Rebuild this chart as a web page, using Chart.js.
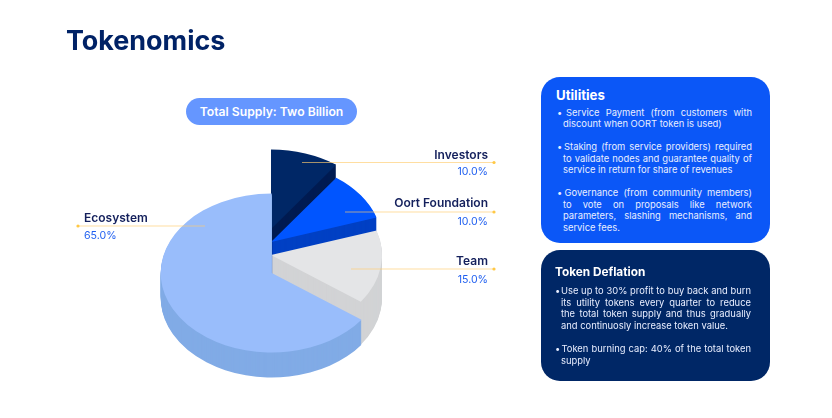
<!DOCTYPE html>
<html>
<head>
<meta charset="utf-8">
<title>Tokenomics</title>
<script src="https://cdn.jsdelivr.net/npm/chart.js@4/dist/chart.umd.min.js"></script>
<style>
  html, body { margin: 0; padding: 0; background: #fff; }
  body { position: relative; width: 832px; height: 418px; overflow: hidden; font-family: Inter, sans-serif; }
  #grafico { position: absolute; left: 0; top: 0; }
  h1 { position: absolute; left: 66px; top: 22px; margin: 0; font-size: 26.9px; line-height: 36px; font-weight: 700; color: #002266; }
  .pill { position: absolute; left: 186px; top: 98px; width: 171px; height: 27px; border-radius: 13.5px; background: #6596ff; color: #fff; font-size: 12.2px; font-weight: 600; line-height: 27px; text-align: center; }
  .panel { position: absolute; left: 541px; width: 229px; border-radius: 19px; color: #e8eeff; }
  .panel h2 { position: absolute; margin: 0; font-weight: 700; color: #fff; white-space: nowrap; }
  .line { position: absolute; height: 12px; font-size: 9.4px; line-height: 12px; white-space: nowrap; }
  .just { white-space: normal; text-align: justify; text-align-last: justify; }
</style>
</head>
<body>
<canvas id="grafico" width="832" height="418"></canvas>
<h1>Tokenomics</h1>
<div class="pill" id="pill"></div>
<div class="panel" id="utilities" style="top:77px;height:166px;background:#0b57f7"></div>
<div class="panel" id="deflation" style="top:250px;height:131px;background:#002766"></div>
<script>
// ----------- Data -----------
const categorias = ["Investors", "Oort Foundation", "Team", "Ecosystem"];
const valores = [10, 10, 15, 65];

const totalSupply = "Total Supply: Two Billion";

const utilitiesLines = [
  "• Service Payment (from customers with",
  "discount when OORT token is used)",
  "• Staking (from service providers) required",
  "to validate nodes and guarantee quality of",
  "service in return for share of revenues",
  "• Governance (from community members)",
  "to vote on proposals like network",
  "parameters, slashing mechanisms, and",
  "service fees."
];
const deflationLines = [
  "• Use up to 30% profit to buy back and burn",
  "its utility tokens every quarter to reduce",
  "the total token supply and thus gradually",
  "and continuosly increase token value.",
  "• Token burning cap: 40% of the total token",
  "supply"
];

// ----------- Styles -----------
const topColors = ["#002766", "#0055ff", "#e4e5e7", "#99bdfb"];
const sideColors = ["#001c52", "#0040c4", "#d2d3d5", "#81abe6"];
const lifts = [69, 56, 43, 25];   // height of each slice in px
const tilt = 0.716;               // squash of the pie

// label y, leader y, value y, leader start x, dot x, text x, text align
const callouts = [
  { name: 155, line: 162.5, value: 171.5, from: 302, dot: 494, x: 488, align: "right" },
  { name: 203.5, line: 212, value: 222, from: 345, dot: 494, x: 488, align: "right" },
  { name: 261.5, line: 269, value: 280, from: 351, dot: 494, x: 488, align: "right" },
  { name: 218.5, line: 226, value: 236, from: 205, dot: 78, x: 84, align: "left" }
];

// ----------- Text panels -----------
function renderPanel(id, title, titleStyle, lines, ys, justified, lefts, bulletLeft, right) {
  const panel = document.getElementById(id);
  const h2 = document.createElement("h2");
  h2.textContent = title;
  h2.style.cssText = titleStyle;
  panel.appendChild(h2);
  lines.forEach((text, i) => {
    const isBullet = text.startsWith("•");
    if (isBullet) {
      const bullet = document.createElement("div");
      bullet.className = "line";
      bullet.textContent = "•";
      bullet.style.left = bulletLeft + "px";
      bullet.style.top = ys[i] + "px";
      panel.appendChild(bullet);
    }
    const div = document.createElement("div");
    div.className = justified[i] ? "line just" : "line";
    div.textContent = isBullet ? text.slice(2) : text;
    div.style.left = lefts[i] + "px";
    div.style.top = ys[i] + "px";
    div.style.width = (right - lefts[i]) + "px";
    panel.appendChild(div);
  });
}

document.getElementById("pill").textContent = totalSupply;

renderPanel("utilities", "Utilities", "left:15px;top:9px;font-size:13.2px;line-height:18px;",
  utilitiesLines, [30, 41, 64, 76, 87, 110, 122, 133, 145],
  [true, false, true, true, false, true, true, true, false],
  [25, 22, 23, 22, 22, 23.5, 22, 22, 22], 16, 211);

renderPanel("deflation", "Token Deflation", "left:14px;top:14px;font-size:11.8px;line-height:17px;",
  deflationLines, [35, 47, 58, 70, 93, 105],
  [true, true, true, false, true, false],
  [20, 20, 20, 20, 20.5, 20], 14, 210);

// ----------- Stepped pie: every slice is extruded from the library's arcs -----------
const steppedPie = {
  id: "steppedPie",
  beforeDatasetsDraw(chart) {
    const ctx = chart.ctx;
    chart.getDatasetMeta(0).data.forEach((arc, i) => {
      const base = arc.options;
      const rightHalf = arc.endAngle <= Math.PI / 2;
      for (let h = 0; h <= lifts[i]; h++) {
        const isTop = h === lifts[i];
        arc.options = Object.assign({}, base, {
          backgroundColor: isTop ? topColors[i] : sideColors[i]
        });
        ctx.save();
        // walls stay off the seam at the centre, or it piles up into a dark line
        if (rightHalf) {
          const clipX = arc.x + (isTop ? 0 : 1);
          ctx.beginPath();
          ctx.rect(clipX, 0, chart.width - clipX, chart.height);
          ctx.clip();
        } else {
          ctx.translate(0.7, 0);
        }
        ctx.translate(0, arc.y - h);
        ctx.scale(1, tilt);
        ctx.translate(0, -arc.y);
        arc.draw(ctx);
        ctx.restore();
      }
      arc.options = base;
    });
    return false;
  }
};

// ----------- Leader lines and labels -----------
const calloutLabels = {
  id: "calloutLabels",
  afterDraw(chart) {
    const ctx = chart.ctx;
    categorias.forEach((cat, i) => {
      const c = callouts[i];
      ctx.save();
      ctx.strokeStyle = "rgba(255, 205, 110, 0.65)";
      ctx.lineWidth = 1;
      ctx.beginPath();
      ctx.moveTo(c.from, c.line);
      ctx.lineTo(c.dot, c.line);
      ctx.stroke();
      ctx.fillStyle = "#ffc845";
      ctx.beginPath();
      ctx.arc(c.dot, c.line, 1.6, 0, Math.PI * 2);
      ctx.fill();

      ctx.textAlign = c.align;
      ctx.textBaseline = "middle";
      ctx.fillStyle = "#14205c";
      ctx.font = "600 12px Inter";
      ctx.fillText(cat, c.x, c.name);
      ctx.fillStyle = "#1f5ff0";
      ctx.font = "400 10.6px Inter";
      ctx.fillText(valores[i].toFixed(1) + "%", c.x, c.value);
      ctx.restore();
    });
  }
};

new Chart(document.getElementById("grafico"), {
  type: "pie",
  data: {
    labels: categorias,
    datasets: [{ data: valores, backgroundColor: topColors, borderWidth: 0 }]
  },
  options: {
    responsive: false,
    animation: false,
    devicePixelRatio: 1,
    events: [],
    layout: { padding: { left: 160, right: 450, top: 187, bottom: 9 } },
    plugins: { legend: { display: false }, tooltip: { enabled: false } }
  },
  plugins: [steppedPie, calloutLabels]
});
</script>
</body>
</html>
